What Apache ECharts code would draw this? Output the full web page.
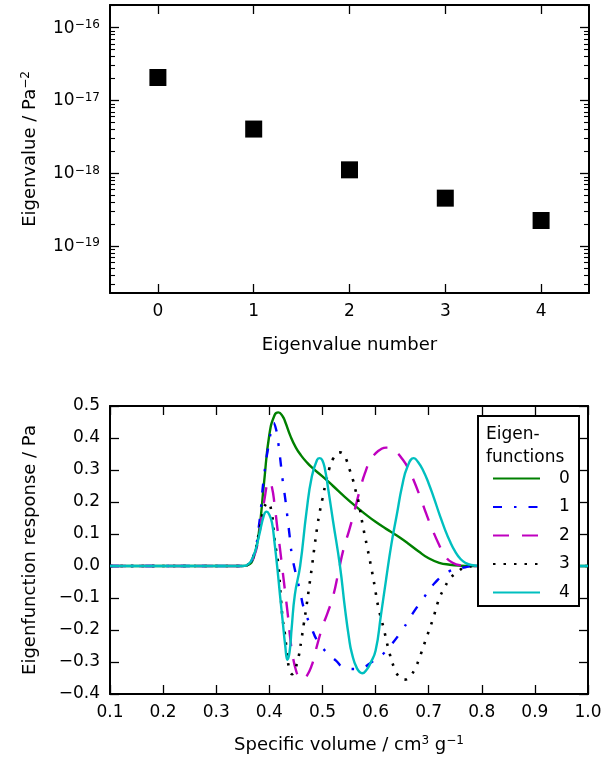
<!DOCTYPE html>
<html>
<head>
<meta charset="utf-8">
<script src="https://cdn.jsdelivr.net/npm/echarts@6/dist/echarts.min.js"></script>
<style>
html,body{margin:0;padding:0;background:#fff;}
#chart{width:614px;height:761px;}
</style>
</head>
<body>
<div id="chart"></div>
<script>
// ---------- data: top chart ----------
const eigIndex = [0, 1, 2, 3, 4];
const eigValues = [2.07e-17, 4.06e-18, 1.12e-18, 4.58e-19, 2.26e-19];
const eigLogRange = [-19.64, -15.69];   // log10 extent of the y axis
const eigMajorExps = [-19, -18, -17, -16];

// ---------- data: bottom chart (eigenfunctions) ----------
const seriesNames = ['0', '1', '2', '3', '4'];

const x0 = [0.10,0.35,0.36,0.37,0.38,0.39,0.40,0.41,0.417,0.425,0.43,0.44,0.45,0.46,0.47,0.48,0.50,0.52,0.54,0.56,0.58,0.60,0.62,0.64,0.66,0.68,0.70,0.72,0.74,0.76,0.78,0.80,1.00];
const y0 = [0,0,0.003,0.025,0.10,0.26,0.41,0.472,0.48,0.468,0.45,0.405,0.37,0.345,0.325,0.308,0.28,0.25,0.219,0.19,0.163,0.138,0.116,0.095,0.072,0.047,0.024,0.01,0.004,0.001,0,0,0];

const x1 = [0.10,0.35,0.36,0.37,0.38,0.39,0.40,0.408,0.413,0.417,0.421,0.425,0.43,0.434,0.438,0.442,0.449,0.458,0.465,0.478,0.492,0.511,0.525,0.541,0.56,0.577,0.593,0.607,0.629,0.651,0.67,0.69,0.711,0.737,0.769,0.79,1.00];
const y1 = [0,0,0.005,0.03,0.12,0.28,0.39,0.447,0.425,0.383,0.328,0.269,0.21,0.154,0.097,0.04,-0.018,-0.08,-0.132,-0.1875,-0.238,-0.275,-0.295,-0.318,-0.322,-0.317,-0.30,-0.286,-0.247,-0.198,-0.148,-0.101,-0.054,-0.018,-0.004,0,0];

const x2 = [0.10,0.35,0.36,0.37,0.38,0.39,0.40,0.405,0.41,0.415,0.42,0.425,0.43,0.435,0.44,0.445,0.45,0.455,0.462,0.47,0.48,0.487,0.50,0.51,0.52,0.53,0.54,0.55,0.56,0.57,0.58,0.59,0.60,0.61,0.62,0.63,0.64,0.65,0.66,0.67,0.684,0.695,0.706,0.72,0.731,0.745,0.76,0.78,1.00];
const y2 = [0,0,0.005,0.025,0.09,0.20,0.265,0.245,0.19,0.12,0.055,-0.015,-0.085,-0.155,-0.235,-0.29,-0.325,-0.345,-0.355,-0.345,-0.31,-0.266,-0.19,-0.145,-0.095,-0.02,0.055,0.11,0.17,0.235,0.29,0.33,0.352,0.365,0.37,0.367,0.355,0.335,0.31,0.275,0.216,0.165,0.118,0.065,0.031,0.01,0.002,0,0];

const x3 = [0.10,0.35,0.36,0.37,0.38,0.39,0.397,0.404,0.41,0.417,0.421,0.425,0.4296,0.433,0.438,0.443,0.45,0.455,0.46,0.465,0.47,0.475,0.48,0.485,0.49,0.495,0.50,0.505,0.513,0.52,0.533,0.54,0.546,0.552,0.558,0.563,0.568,0.575,0.583,0.591,0.598,0.605,0.615,0.624,0.6355,0.646,0.655,0.663,0.674,0.682,0.695,0.708,0.72,0.729,0.739,0.753,0.77,0.79,1.00];
const y3 = [0,0,0.005,0.03,0.10,0.18,0.198,0.17,0.08,0.003,-0.085,-0.163,-0.216,-0.268,-0.325,-0.338,-0.315,-0.285,-0.235,-0.18,-0.125,-0.065,-0.005,0.06,0.12,0.17,0.21,0.25,0.305,0.335,0.355,0.348,0.328,0.297,0.266,0.232,0.2,0.135,0.069,0.003,-0.06,-0.127,-0.193,-0.257,-0.32,-0.349,-0.355,-0.348,-0.322,-0.29,-0.228,-0.166,-0.101,-0.071,-0.042,-0.02,-0.004,0,0];

const x4 = [0.10,0.35,0.36,0.37,0.38,0.39,0.395,0.40,0.405,0.41,0.415,0.42,0.425,0.43,0.434,0.438,0.442,0.448,0.458,0.47,0.48,0.49,0.495,0.50,0.505,0.51,0.52,0.533,0.5426,0.55,0.555,0.565,0.575,0.585,0.59,0.60,0.61,0.62,0.63,0.64,0.65,0.66,0.672,0.68,0.69,0.70,0.71,0.72,0.73,0.74,0.75,0.76,0.77,0.78,0.80,1.00];
const y4 = [0,0,0.005,0.03,0.09,0.16,0.17,0.16,0.135,0.07,-0.005,-0.09,-0.17,-0.25,-0.293,-0.27,-0.195,-0.09,0.0,0.17,0.28,0.332,0.337,0.33,0.30,0.25,0.14,0.0,-0.135,-0.225,-0.27,-0.32,-0.335,-0.32,-0.305,-0.265,-0.155,-0.04,0.07,0.16,0.25,0.31,0.337,0.325,0.297,0.258,0.212,0.163,0.117,0.077,0.045,0.022,0.009,0.003,0,0];

const xTickMin = 0.1, xTickMax = 1.0, xTickStep = 0.1;
const yTickMin = -0.4, yTickMax = 0.5, yTickStep = 0.1;

// ---------- build ----------
const FONT = 'DejaVu Sans';
const FS = 17;
const pair = (xs, ys) => xs.map((x, i) => [x, ys[i]]);
const lineData = [pair(x0,y0), pair(x1,y1), pair(x2,y2), pair(x3,y3), pair(x4,y4)];
const lineColors = ['#008000', '#0000ff', '#bf00bf', '#000000', '#00bfbf'];
const lineTypes = ['solid', [9, 12, 2.5, 12], [16, 13], [2.5, 8], 'solid'];
const lineWidths = [2.4, 2.4, 2.4, 2.6, 2.4];

const minorVals = [];
for (let n = -21; n <= -15; n++) {
  for (let k = 2; k <= 9; k++) {
    const v = n + Math.log10(k);
    if (v > eigLogRange[0] && v < eigLogRange[1]) minorVals.push(v);
  }
}
const supRich = {
  b: { fontSize: FS, fontFamily: FONT, color: '#000', lineHeight: 18, verticalAlign: 'bottom' },
  s: { fontSize: 12, fontFamily: FONT, color: '#000', lineHeight: 12, verticalAlign: 'top', padding: [0, 0, 10, 0] }
};
const nameRich = {
  b: { fontSize: 18, fontFamily: FONT, color: '#000', lineHeight: 19, verticalAlign: 'bottom' },
  s: { fontSize: 12, fontFamily: FONT, color: '#000', lineHeight: 12, verticalAlign: 'top', padding: [0, 0, 10, 0] }
};
const minus = v => (v < 0 ? '\u2212' : '') + Math.abs(v);

const axLine = { show: true, onZero: false, lineStyle: { color: '#000', width: 2 } };
const noLine = { show: false, onZero: false };
const tickMajor = { show: true, inside: true, length: 9, lineStyle: { color: '#000', width: 1.3 } };
const tickMinor = { show: true, inside: true, length: 5, lineStyle: { color: '#000', width: 1.1 } };
const lbl = { color: '#000', fontSize: FS, fontFamily: FONT };

function logTickAxis(pos, vals, tick) {
  return { gridIndex: 0, type: 'value', position: pos, min: eigLogRange[0], max: eigLogRange[1],
    axisLine: noLine, splitLine: { show: false },
    axisTick: Object.assign({ customValues: vals }, tick),
    axisLabel: { show: false } };
}

const option = {
  animation: false,
  backgroundColor: '#fff',
  grid: [
    { left: 110, top: 5, width: 479, height: 288, containLabel: false },
    { left: 110, top: 406, width: 478, height: 288, containLabel: false }
  ],
  xAxis: [
    { gridIndex: 0, type: 'value', position: 'bottom', min: -0.5, max: 4.5,
      axisLine: axLine, splitLine: { show: false },
      axisTick: Object.assign({ customValues: eigIndex }, tickMajor),
      axisLabel: Object.assign({ customValues: eigIndex, margin: 10 }, lbl),
      name: 'Eigenvalue number', nameLocation: 'middle', nameGap: 43,
      nameTextStyle: { color: '#000', fontSize: 18, fontFamily: FONT } },
    { gridIndex: 0, type: 'value', position: 'top', min: -0.5, max: 4.5,
      axisLine: axLine, splitLine: { show: false },
      axisTick: Object.assign({ customValues: eigIndex }, tickMajor),
      axisLabel: { show: false } },
    { gridIndex: 1, type: 'value', position: 'bottom', min: xTickMin, max: xTickMax, interval: xTickStep,
      axisLine: axLine, splitLine: { show: false }, axisTick: tickMajor,
      axisLabel: Object.assign({ margin: 10, formatter: v => v.toFixed(1) }, lbl),
      name: '{b|Specific volume / cm}{s|3}{b| g}{s|\u22121}', nameLocation: 'middle', nameGap: 41,
      nameTextStyle: { rich: nameRich } },
    { gridIndex: 1, type: 'value', position: 'top', min: xTickMin, max: xTickMax, interval: xTickStep,
      axisLine: axLine, splitLine: { show: false }, axisTick: tickMajor,
      axisLabel: { show: false } }
  ],
  yAxis: [
    { gridIndex: 0, type: 'log', logBase: 10, position: 'left',
      min: Math.pow(10, eigLogRange[0]), max: Math.pow(10, eigLogRange[1]),
      axisLine: axLine, splitLine: { show: false }, axisTick: { show: false },
      axisLabel: Object.assign({ margin: 10, showMinLabel: false, showMaxLabel: false,
        formatter: v => {
          const e = Math.log10(v); const r = Math.round(e);
          if (Math.abs(e - r) > 0.01 || eigMajorExps.indexOf(r) < 0) return '';
          return '{b|10}{s|' + minus(r) + '}';
        }, rich: supRich }, lbl),
      name: '{b|Eigenvalue / Pa}{s|\u22122}', nameLocation: 'middle', nameGap: 64,
      nameTextStyle: { rich: nameRich } },
    { gridIndex: 0, type: 'log', logBase: 10, position: 'right',
      min: Math.pow(10, eigLogRange[0]), max: Math.pow(10, eigLogRange[1]),
      axisLine: axLine, splitLine: { show: false }, axisTick: { show: false },
      axisLabel: { show: false } },
    logTickAxis('left', minorVals, tickMinor),
    logTickAxis('right', minorVals, tickMinor),
    { gridIndex: 1, type: 'value', position: 'left', min: yTickMin, max: yTickMax, interval: yTickStep,
      axisLine: axLine, splitLine: { show: false }, axisTick: tickMajor,
      axisLabel: Object.assign({ margin: 10, formatter: v => (v < -1e-9 ? '\u2212' : '') + Math.abs(v).toFixed(1) }, lbl),
      name: 'Eigenfunction response / Pa', nameLocation: 'middle', nameGap: 71,
      nameTextStyle: { color: '#000', fontSize: 18, fontFamily: FONT } },
    { gridIndex: 1, type: 'value', position: 'right', min: yTickMin, max: yTickMax, interval: yTickStep,
      axisLine: axLine, splitLine: { show: false }, axisTick: tickMajor,
      axisLabel: { show: false } },
    logTickAxis('left', eigMajorExps, tickMajor),
    logTickAxis('right', eigMajorExps, tickMajor)
  ],
  legend: {
    data: seriesNames, orient: 'vertical', left: 492, top: 470, z: 30, padding: 0,
    itemWidth: 47, itemHeight: 14, itemGap: 11.5,
    itemStyle: { opacity: 0, borderWidth: 0 },
    textStyle: { color: '#000', fontSize: FS, fontFamily: FONT, lineHeight: 14, padding: [0, 0, 0, 14] },
    selectedMode: false
  },
  graphic: [
    { type: 'rect', z: 20, shape: { x: 478, y: 416, width: 101, height: 190 },
      style: { fill: '#fff', stroke: '#000', lineWidth: 2 } },
    { type: 'text', z: 25, x: 486, y: 423,
      style: { text: 'Eigen-\nfunctions', fill: '#000', font: FS + 'px "DejaVu Sans"', lineHeight: 23 } }
  ],
  series: [
    { type: 'scatter', xAxisIndex: 0, yAxisIndex: 0, symbol: 'rect', symbolSize: 17,
      itemStyle: { color: '#000', opacity: 1 }, data: eigIndex.map((x, i) => [x, eigValues[i]]) }
  ].concat(seriesNames.map((nm, i) => ({
    type: 'line', name: nm, xAxisIndex: 2, yAxisIndex: 4, symbol: 'none', showSymbol: false,
    smooth: 0.5, z: 3 + i,
    lineStyle: { color: lineColors[i], width: lineWidths[i], type: lineTypes[i], cap: 'butt' },
    itemStyle: { color: lineColors[i] },
    data: lineData[i]
  })))
};

const chart = echarts.init(document.getElementById('chart'), null, { renderer: 'canvas' });
chart.setOption(option);
</script>
</body>
</html>
